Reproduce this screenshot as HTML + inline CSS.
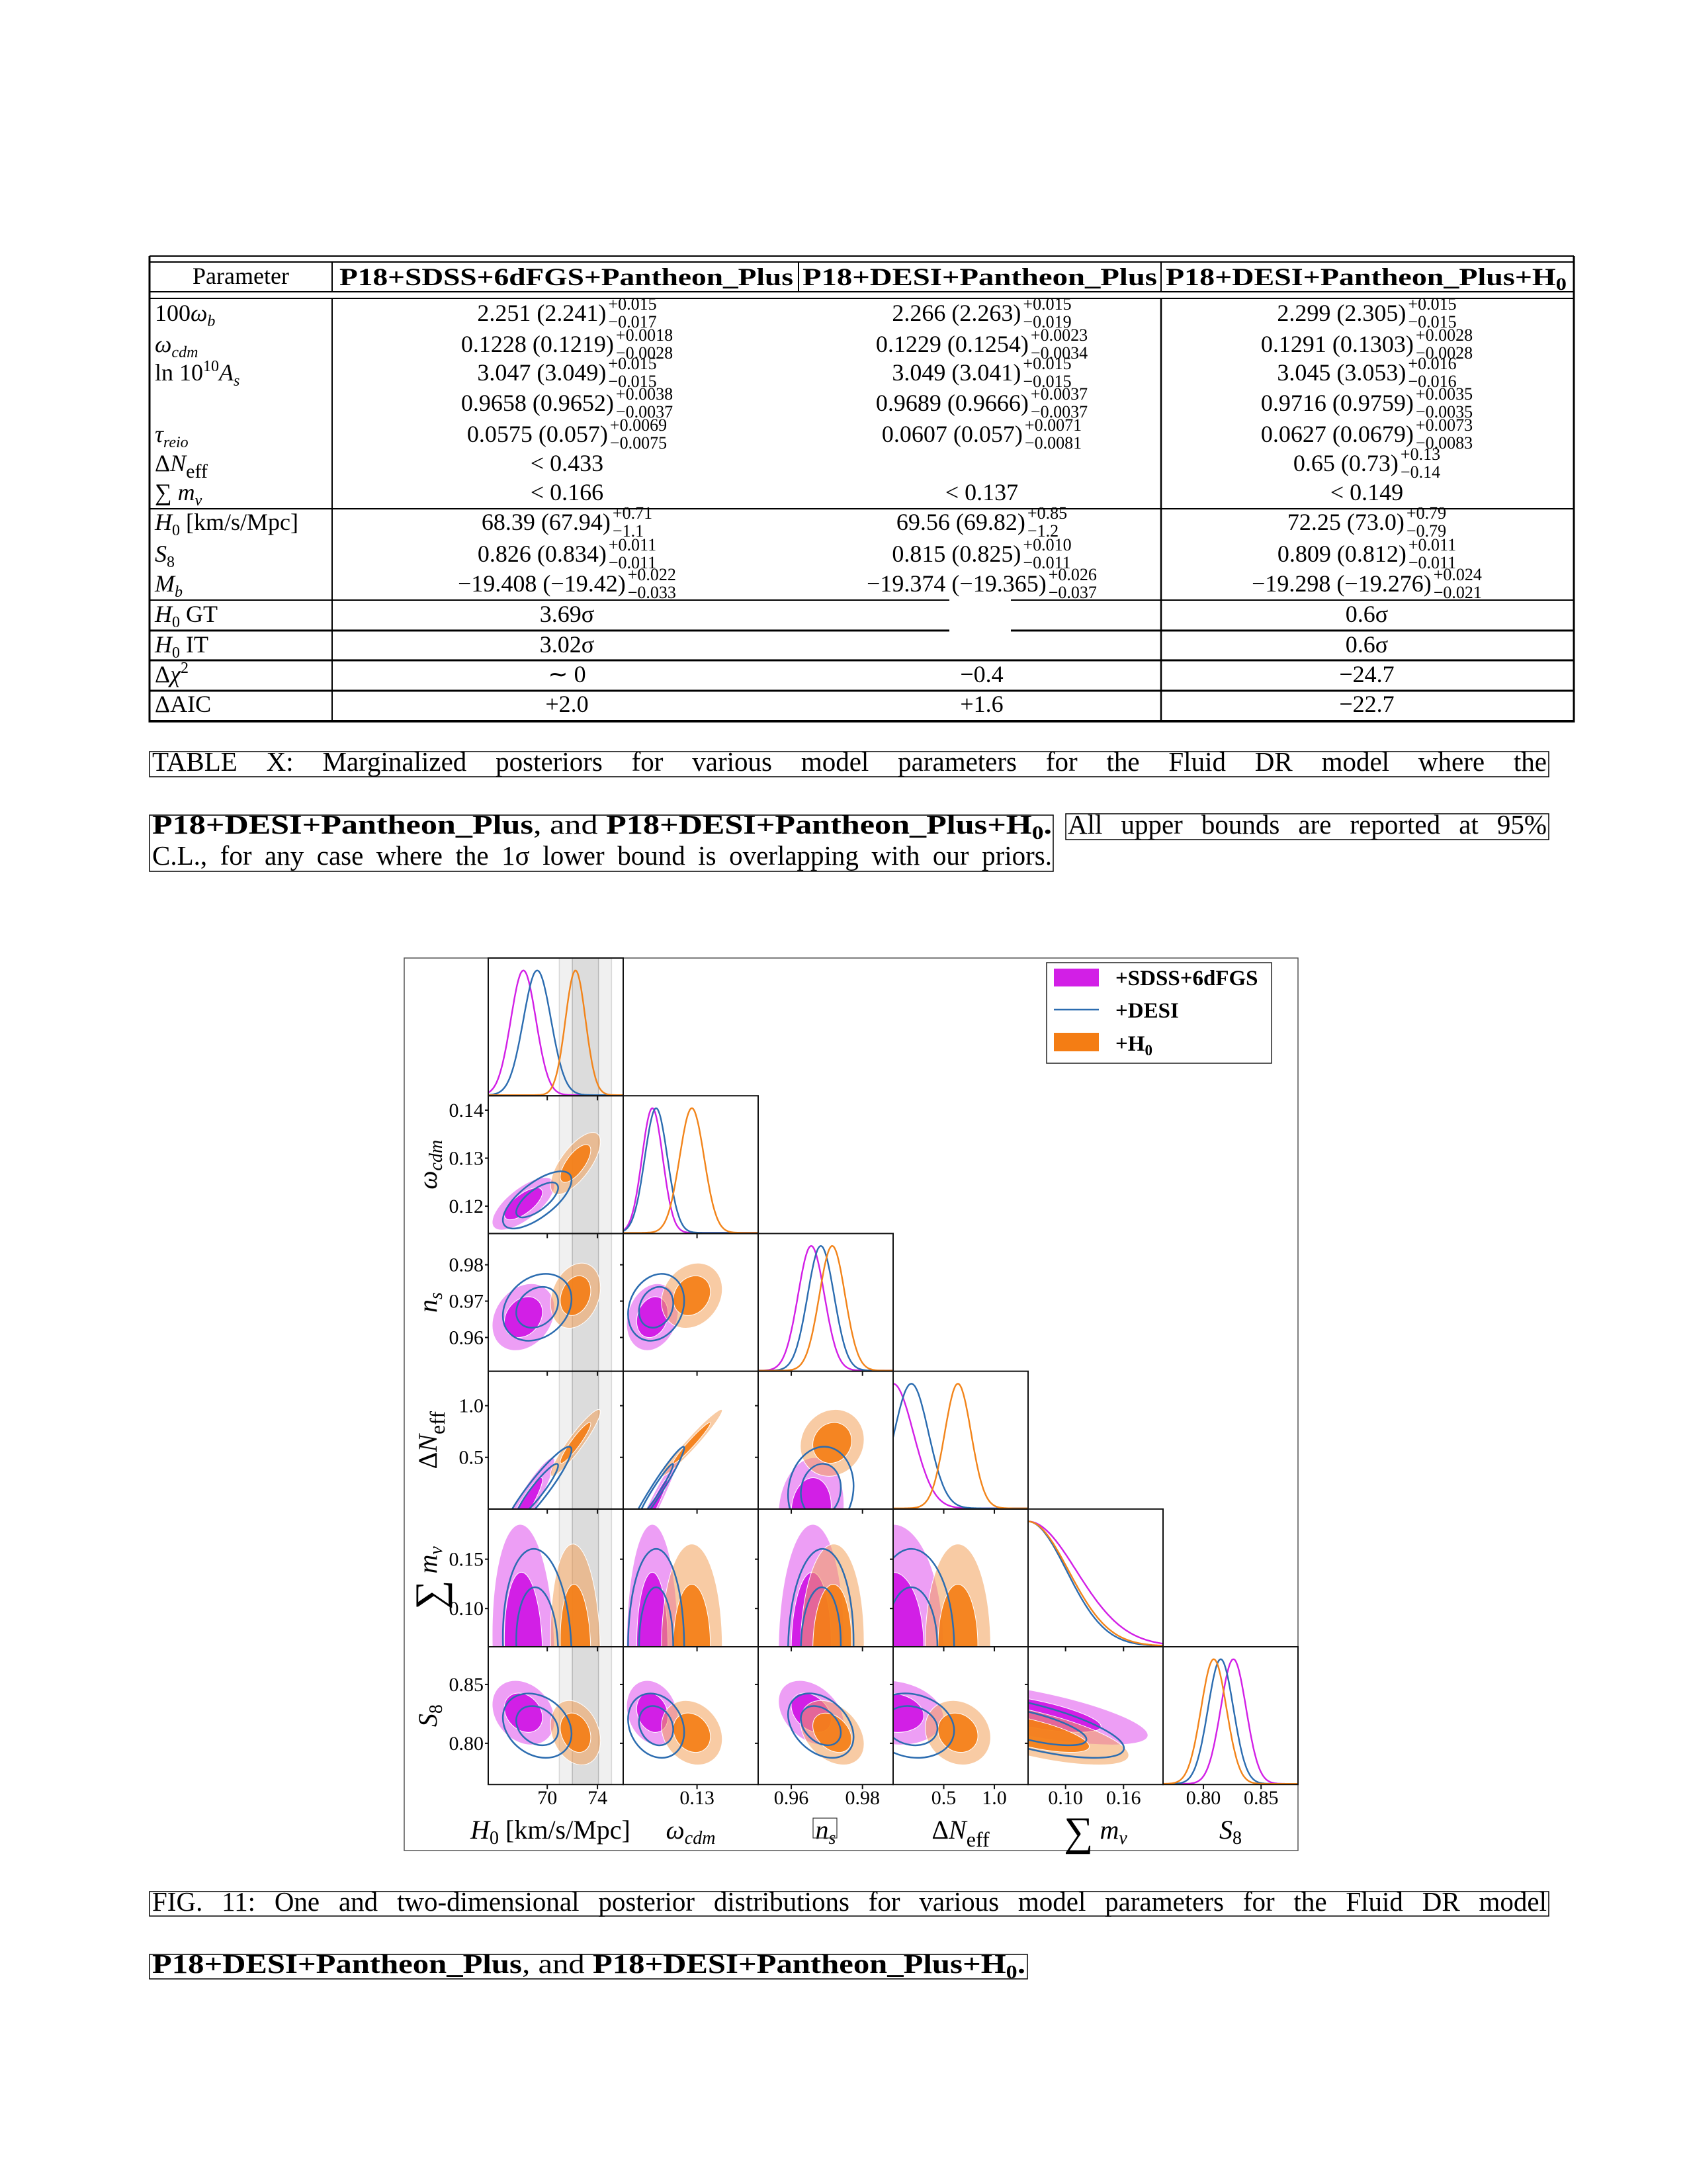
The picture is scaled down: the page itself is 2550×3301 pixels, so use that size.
<!DOCTYPE html>
<html><head><meta charset="utf-8"><title>Fluid DR posteriors</title>
<style>
html,body{margin:0;padding:0;background:#fff;}
svg{display:block;font-family:"Liberation Serif",serif;}
</style></head>
<body>
<svg id="page" xmlns="http://www.w3.org/2000/svg" width="2550" height="3301" viewBox="0 0 2550 3301">
<rect x="0" y="0" width="2550" height="3301" fill="#fff"/>
<g id="table"></g>
<g id="captions"></g>
<g id="chart"></g>
</svg>
<script>
// ---------- chart data ----------
const paramNames = ['H0','omega_cdm','n_s','Delta_Neff','sum_mnu','S8'];
const axMin = [65.3, 0.1143, 0.9507, 0.0, 0.0612, 0.765];
const axMax = [76.05, 0.1430, 0.9886, 1.333, 0.2009, 0.882];
const seriesNames = ['+SDSS+6dFGS', '+DESI', '+H0'];
const meanSDSS = [68.1, 0.1205, 0.9656, 0.0, 0.061, 0.826];
const sigSDSS  = [1.0, 0.0022, 0.0037, 0.20, 0.050, 0.011];
const meanDESI = [69.2, 0.1213, 0.9683, 0.18, 0.061, 0.815];
const sigDESI  = [1.1, 0.0024, 0.0037, 0.17, 0.040, 0.011];
const meanH0   = [72.25, 0.1289, 0.9715, 0.64, 0.061, 0.809];
const sigH0    = [0.8, 0.0026, 0.0036, 0.13, 0.042, 0.011];
const corrRow0 = [1, 0.70, 0.25, 0.93, -0.10, -0.25];
const corrRow1 = [0.70, 1, 0.20, 0.97, 0.0, -0.20];
const corrRow2 = [0.25, 0.20, 1, 0.10, 0.05, -0.35];
const corrRow3 = [0.93, 0.97, 0.10, 1, 0.0, -0.15];
const corrRow4 = [-0.10, 0.0, 0.05, 0.0, 1, -0.70];
const corrRow5 = [-0.25, -0.20, -0.35, -0.15, -0.70, 1];
const h0Ref = 73.04;
const h0RefSig = 1.04;
const xTickVals = [[70,74],[0.13],[0.96,0.98],[0.5,1.0],[0.10,0.16],[0.80,0.85]];
const xTickLabels = [['70','74'],['0.13'],['0.96','0.98'],['0.5','1.0'],['0.10','0.16'],['0.80','0.85']];
const yTickVals = [[],[0.12,0.13,0.14],[0.96,0.97,0.98],[0.5,1.0],[0.10,0.15],[0.80,0.85]];
const yTickLabels = [[],['0.12','0.13','0.14'],['0.96','0.97','0.98'],['0.5','1.0'],['0.10','0.15'],['0.80','0.85']];

// ---------- table data ----------
const rowCenters = [473,520,563,609,656,700,744,789,837,882,928,974,1019,1064];
const colSDSS = [["2.251 (2.241)","+0.015","−0.017"],["0.1228 (0.1219)","+0.0018","−0.0028"],["3.047 (3.049)","+0.015","−0.015"],["0.9658 (0.9652)","+0.0038","−0.0037"],["0.0575 (0.057)","+0.0069","−0.0075"],["< 0.433"],["< 0.166"],["68.39 (67.94)","+0.71","−1.1"],["0.826 (0.834)","+0.011","−0.011"],["−19.408 (−19.42)","+0.022","−0.033"],["3.69σ"],["3.02σ"],["∼ 0"],["+2.0"]];
const colDESI = [["2.266 (2.263)","+0.015","−0.019"],["0.1229 (0.1254)","+0.0023","−0.0034"],["3.049 (3.041)","+0.015","−0.015"],["0.9689 (0.9666)","+0.0037","−0.0037"],["0.0607 (0.057)","+0.0071","−0.0081"],[""],["< 0.137"],["69.56 (69.82)","+0.85","−1.2"],["0.815 (0.825)","+0.010","−0.011"],["−19.374 (−19.365)","+0.026","−0.037"],[""],[""],["−0.4"],["+1.6"]];
const colH0 = [["2.299 (2.305)","+0.015","−0.015"],["0.1291 (0.1303)","+0.0028","−0.0028"],["3.045 (3.053)","+0.016","−0.016"],["0.9716 (0.9759)","+0.0035","−0.0035"],["0.0627 (0.0679)","+0.0073","−0.0083"],["0.65 (0.73)","+0.13","−0.14"],["< 0.149"],["72.25 (73.0)","+0.79","−0.79"],["0.809 (0.812)","+0.011","−0.011"],["−19.298 (−19.276)","+0.024","−0.021"],["0.6σ"],["0.6σ"],["−24.7"],["−22.7"]];
const rowLabels = [
 '100<tspan font-style="italic">ω</tspan><tspan font-style="italic" font-size="24" dy="8">b</tspan>',
 '<tspan font-style="italic">ω</tspan><tspan font-style="italic" font-size="24" dy="8">cdm</tspan>',
 'ln 10<tspan font-size="24" dy="-14">10</tspan><tspan font-style="italic" dy="14">A</tspan><tspan font-style="italic" font-size="24" dy="8">s</tspan>',
 '',
 '<tspan font-style="italic">τ</tspan><tspan font-style="italic" font-size="24" dy="8">reio</tspan>',
 'Δ<tspan font-style="italic">N</tspan><tspan font-size="30" dy="10">eff</tspan>',
 '∑ <tspan font-style="italic">m</tspan><tspan font-style="italic" font-size="24" dy="8">ν</tspan>',
 '<tspan font-style="italic">H</tspan><tspan font-size="24" dy="8">0</tspan><tspan dy="-8"> [km/s/Mpc]</tspan>',
 '<tspan font-style="italic">S</tspan><tspan font-size="24" dy="8">8</tspan>',
 '<tspan font-style="italic">M</tspan><tspan font-style="italic" font-size="24" dy="8">b</tspan>',
 '<tspan font-style="italic">H</tspan><tspan font-size="24" dy="8">0</tspan><tspan dy="-8"> GT</tspan>',
 '<tspan font-style="italic">H</tspan><tspan font-size="24" dy="8">0</tspan><tspan dy="-8"> IT</tspan>',
 'Δ<tspan font-style="italic">χ</tspan><tspan font-size="24" dy="-14">2</tspan>',
 'ΔAIC'
];

const NS = 'http://www.w3.org/2000/svg';
function mk(tag, parent, attrs) {
  const el = document.createElementNS(NS, tag);
  for (const k in attrs) el.setAttribute(k, attrs[k]);
  parent.appendChild(el);
  return el;
}

// ---------- table ----------
const T = document.getElementById('table');
function hline(x1, x2, y, w, name) {
  const l = mk('line', T, {x1:x1, x2:x2, y1:y, y2:y, stroke:'#000', 'stroke-width':w});
  
  
}
function vline(x, y1, y2, w, name) {
  const l = mk('line', T, {x1:x, x2:x, y1:y1, y2:y2, stroke:'#000', 'stroke-width':w});
  
  
}
hline(226, 2379, 387, 2, 'table-top-rule');
hline(226, 2379, 396, 2, 'table-header-top-rule');
hline(226, 2379, 441, 2, 'table-header-bottom-rule');
hline(226, 2379, 451, 2, 'table-body-top-rule');
[226, 502, 1207, 1755, 2379].forEach(function (x) { vline(x, 396, 441, 2, 'header-column-divider'); });
vline(226, 387, 1092, 3, 'table-left-border');
vline(2379, 387, 1092, 3, 'table-right-border');
vline(502, 451, 1090, 2, 'table-column-divider');
vline(1755, 451, 1090, 2.5, 'table-column-divider');
hline(226, 2379, 769, 2, 'table-section-rule');
hline(226, 1435, 907, 2, 'table-section-rule');
hline(1528, 2379, 907, 2, 'table-section-rule');
hline(226, 1435, 953, 3, 'table-row-rule');
hline(1528, 2379, 953, 3, 'table-row-rule');
hline(226, 2379, 998, 3, 'table-row-rule');
hline(226, 2379, 1044, 3, 'table-row-rule');
hline(226, 2379, 1090, 4, 'table-bottom-rule');

const hp = mk('text', T, {x:364, y:429, 'font-size':36, 'text-anchor':'middle'});
hp.textContent = 'Parameter';


const h1 = mk('text', T, {x:856, y:431, 'font-size':37, 'font-weight':'bold', 'text-anchor':'middle', textLength:686, lengthAdjust:'spacingAndGlyphs'});
h1.textContent = 'P18+SDSS+6dFGS+Pantheon_Plus';


const h2 = mk('text', T, {x:1481, y:431, 'font-size':37, 'font-weight':'bold', 'text-anchor':'middle', textLength:536, lengthAdjust:'spacingAndGlyphs'});
h2.textContent = 'P18+DESI+Pantheon_Plus';


const h3 = mk('text', T, {x:1762, y:431, 'font-size':37, 'font-weight':'bold'});
h3.innerHTML = 'P18+DESI+Pantheon_Plus+H<tspan font-size="26" dy="7">0</tspan>';


(function(){ const w = h3.getComputedTextLength(); if (w > 0) { h3.setAttribute('transform', 'translate(1762,0) scale(' + (606 / w) + ',1) translate(-1762,0)'); } })();

rowLabels.forEach(function (lab, i) {
  const t = mk('text', T, {x:234, y:rowCenters[i] + 12, 'font-size':36});
  t.innerHTML = lab;
  
  
});

function putVal(cx, yc, v) {
  if (!v[0]) return;
  const g = mk('g', T, {});
  
  
  const m = mk('text', g, {x:0, y:yc + 12, 'font-size':36});
  m.textContent = v[0];
  const wm = m.getComputedTextLength();
  let ws = 0, sp = null, sb = null;
  if (v[1]) {
    sp = mk('text', g, {x:0, y:yc - 5, 'font-size':26});
    sp.textContent = v[1];
    sb = mk('text', g, {x:0, y:yc + 22, 'font-size':26});
    sb.textContent = v[2];
    ws = Math.max(sp.getComputedTextLength(), sb.getComputedTextLength()) + 3;
  }
  const x0 = cx - (wm + ws) / 2;
  m.setAttribute('x', x0);
  if (sp) { sp.setAttribute('x', x0 + wm + 3); sb.setAttribute('x', x0 + wm + 3); }
}
rowCenters.forEach(function (yc, i) {
  putVal(857, yc, colSDSS[i]);
  putVal(1484, yc, colDESI[i]);
  putVal(2066, yc, colH0[i]);
});

// ---------- captions ----------
const C = document.getElementById('captions');
function capBox(x1, y1, x2, y2) {
  const r = mk('rect', C, {x:x1, y:y1, width:x2 - x1, height:y2 - y1, fill:'none', stroke:'#000', 'stroke-width':1.5});
  
  
}
function seg(parent, s, size) {
  const t = mk('text', parent, {x:0, y:0, 'font-size':size});
  if (s.b) t.setAttribute('font-weight', 'bold');
  t.textContent = s.t;
  if (s.sub) { const ts = mk('tspan', t, {'font-size':size * 0.7, dy:8}); ts.textContent = s.sub; }
  return t;
}
function capLine(segs, x0, x1, y, size, justify, name) {
  const g = mk('g', C, {});
  
  
  const els = segs.map(function (s) { return seg(g, s, size); });
  const ws = els.map(function (e) { return e.getComputedTextLength(); });
  const W = ws.reduce(function (a, b) { return a + b; }, 0);
  if (justify && els.length > 1) {
    const gap = (x1 - x0 - W) / (els.length - 1);
    let x = x0;
    els.forEach(function (e, i) { e.setAttribute('x', x); e.setAttribute('y', y); x += ws[i] + gap; });
  } else {
    const s = W > 0 ? (x1 - x0) / W : 1;
    let x = x0;
    els.forEach(function (e, i) {
      e.setAttribute('x', x); e.setAttribute('y', y);
      e.setAttribute('transform', 'translate(' + x + ',0) scale(' + s + ',1) translate(' + (-x) + ',0)');
      x += ws[i] * s;
    });
  }
}
function words(str) { return str.split(' ').map(function (w) { return {t:w}; }); }
capBox(226, 1136, 2341, 1174);
capLine(words('TABLE X: Marginalized posteriors for various model parameters for the Fluid DR model where the'), 230, 2338, 1165, 41, true, 'table-caption-line-1');
capBox(226, 1232, 1592, 1317);
capLine([{t:'P18+DESI+Pantheon_Plus', b:1}, {t:', and\u00a0'}, {t:'P18+DESI+Pantheon_Plus+H', b:1, sub:'0'}, {t:'.', b:1}], 230, 1590, 1260, 41, false, 'table-caption-line-2');
capBox(1611, 1230, 2341, 1269);
capLine(words('All upper bounds are reported at 95%'), 1614, 2338, 1260, 41, true, 'table-caption-upper-bounds');
capLine(words('C.L., for any case where the 1σ lower bound is overlapping with our priors.'), 230, 1590, 1307, 41, true, 'table-caption-line-3');
capBox(226, 2859, 2341, 2896);
capLine(words('FIG. 11: One and two-dimensional posterior distributions for various model parameters for the Fluid DR model'), 230, 2338, 2888, 41, true, 'figure-caption-line-1');
capBox(226, 2954, 1553, 2991);
capLine([{t:'P18+DESI+Pantheon_Plus', b:1}, {t:', and\u00a0'}, {t:'P18+DESI+Pantheon_Plus+H', b:1, sub:'0'}, {t:'.', b:1}], 230, 1550, 2982, 41, false, 'figure-caption-line-2');

// ---------- chart ----------
const G = document.getElementById('chart');
const X0 = 738, Y0 = 1448, CW = 204, CH = 208.2;
const corr = [corrRow0, corrRow1, corrRow2, corrRow3, corrRow4, corrRow5];
const series = [
  {mean: meanSDSS, sig: sigSDSS, line:'#d21fe6', outer:'rgba(214,40,232,0.45)', inner:'#d21fe6', fill:true},
  {mean: meanDESI, sig: sigDESI, line:'#2b6cb0', fill:false},
  {mean: meanH0, sig: sigH0, line:'#f2841a', outer:'rgba(243,160,90,0.55)', inner:'rgba(244,125,20,0.9)', fill:true}
];
function xs(c, v) { return X0 + c * CW + (v - axMin[c]) / (axMax[c] - axMin[c]) * CW; }
function ys(r, v) { return Y0 + (r + 1) * CH - (v - axMin[r]) / (axMax[r] - axMin[r]) * CH; }

const frame = mk('rect', G, {x:611, y:1448, width:1351, height:1349, fill:'none', stroke:'#555', 'stroke-width':1.5});



const defs = mk('defs', G, {});
for (let r = 0; r < 6; r++) for (let c = 0; c <= r; c++) {
  const cp = mk('clipPath', defs, {id:'clip' + r + '_' + c});
  mk('rect', cp, {x:X0 + c * CW, y:Y0 + r * CH, width:CW, height:CH});
}

// H0 reference band (column 0)
const bandLight = mk('rect', G, {x:xs(0, h0Ref - 2 * h0RefSig), y:Y0, width:xs(0, h0Ref + 2 * h0RefSig) - xs(0, h0Ref - 2 * h0RefSig), height:6 * CH, fill:'#f0f0f0', stroke:'#d8d8d8', 'stroke-width':1.5});


const bandDark = mk('rect', G, {x:xs(0, h0Ref - h0RefSig), y:Y0, width:xs(0, h0Ref + h0RefSig) - xs(0, h0Ref - h0RefSig), height:6 * CH, fill:'#dcdcdc', stroke:'#b8b8b8', 'stroke-width':1.5});



function ellipseAttrs(r, c, s, k) {
  const mx = xs(c, s.mean[c]), my = ys(r, s.mean[r]);
  const sx = s.sig[c] / (axMax[c] - axMin[c]) * CW;
  const sy = s.sig[r] / (axMax[r] - axMin[r]) * CH;
  const rho = -corr[r][c];
  const a = sx * sx, cc = sy * sy, b = rho * sx * sy;
  const tr = (a + cc) / 2, d = Math.sqrt(((a - cc) / 2) * ((a - cc) / 2) + b * b);
  const l1 = tr + d, l2 = Math.max(tr - d, 0.01);
  const th = 0.5 * Math.atan2(2 * b, a - cc) * 180 / Math.PI;
  return {cx:mx, cy:my, rx:k * Math.sqrt(l1), ry:k * Math.sqrt(l2), transform:'rotate(' + th + ' ' + mx + ' ' + my + ')'};
}

// 2D contours
for (let r = 1; r < 6; r++) for (let c = 0; c < r; c++) {
  const pg = mk('g', G, {'clip-path':'url(#clip' + r + '_' + c + ')'});
  
  
  [0, 2].forEach(function (si) {
    const s = series[si];
    const o = mk('ellipse', pg, Object.assign(ellipseAttrs(r, c, s, 2.486), {fill:s.outer, stroke:'#fff', 'stroke-width':1}));
    
    
    const i = mk('ellipse', pg, Object.assign(ellipseAttrs(r, c, s, 1.515), {fill:s.inner, stroke:'#fff', 'stroke-width':1}));
    
    
  });
  const sd = series[1];
  const o2 = mk('ellipse', pg, Object.assign(ellipseAttrs(r, c, sd, 2.486), {fill:'none', stroke:sd.line, 'stroke-width':2.5}));
  
  
  const i2 = mk('ellipse', pg, Object.assign(ellipseAttrs(r, c, sd, 1.515), {fill:'none', stroke:sd.line, 'stroke-width':2.5}));
  
  
}

// 1D marginals
for (let d = 0; d < 6; d++) {
  const pg = mk('g', G, {'clip-path':'url(#clip' + d + '_' + d + ')'});
  
  
  series.forEach(function (s, si) {
    let pts = [];
    for (let k = 0; k <= 160; k++) {
      const v = axMin[d] + (axMax[d] - axMin[d]) * k / 160;
      const z = (v - s.mean[d]) / s.sig[d];
      const f = Math.exp(-0.5 * z * z);
      pts.push(xs(d, v).toFixed(1) + ',' + (Y0 + (d + 1) * CH - 1 - f * CH * 0.905).toFixed(1));
    }
    const pl = mk('polyline', pg, {points:pts.join(' '), fill:'none', stroke:s.line, 'stroke-width':2.4});
    
    
  });
}

// panel frames & ticks
for (let r = 0; r < 6; r++) for (let c = 0; c <= r; c++) {
  const fr = mk('rect', G, {x:X0 + c * CW, y:Y0 + r * CH, width:CW, height:CH, fill:'none', stroke:'#111', 'stroke-width':2});
  
  
  xTickVals[c].forEach(function (v) {
    const x = xs(c, v);
    const tk = mk('line', G, {x1:x, x2:x, y1:Y0 + (r + 1) * CH, y2:Y0 + (r + 1) * CH + 7, stroke:'#111', 'stroke-width':2});
    
    
  });
  if (r !== c) {
    yTickVals[r].forEach(function (v) {
      const y = ys(r, v);
      const tk = mk('line', G, {x1:X0 + c * CW - 5, x2:X0 + c * CW, y1:y, y2:y, stroke:'#111', 'stroke-width':2});
      
      
    });
  }
}
// tick labels
for (let c = 0; c < 6; c++) {
  xTickVals[c].forEach(function (v, i) {
    const t = mk('text', G, {x:xs(c, v), y:2727, 'font-size':30, 'text-anchor':'middle'});
    t.textContent = xTickLabels[c][i];
    
    
  });
}
for (let r = 1; r < 6; r++) {
  yTickVals[r].forEach(function (v, i) {
    const t = mk('text', G, {x:731, y:ys(r, v) + 10, 'font-size':30, 'text-anchor':'end'});
    t.textContent = yTickLabels[r][i];
    
    
  });
}
// axis titles (bottom)
const xTitles = [
  '<tspan font-style="italic">H</tspan><tspan font-size="28" dy="8">0</tspan><tspan dy="-8"> [km/s/Mpc]</tspan>',
  '<tspan font-style="italic">ω</tspan><tspan font-style="italic" font-size="28" dy="8">cdm</tspan>',
  '<tspan font-style="italic">n</tspan><tspan font-style="italic" font-size="28" dy="8">s</tspan>',
  'Δ<tspan font-style="italic">N</tspan><tspan font-size="32" dy="12">eff</tspan>',
  '<tspan font-size="62" dy="10">∑</tspan><tspan font-style="italic" dy="-10"> m</tspan><tspan font-style="italic" font-size="28" dy="8">ν</tspan>',
  '<tspan font-style="italic">S</tspan><tspan font-size="28" dy="8">8</tspan>'
];
xTitles.forEach(function (h, c) {
  const t = mk('text', G, {x:X0 + c * CW + CW / 2 + (c === 0 ? -8 : 0), y:2779, 'font-size':40, 'text-anchor':'middle'});
  t.innerHTML = h;
  
  
});
const nsBox = mk('rect', G, {x:1229, y:2748, width:36, height:30, fill:'none', stroke:'#333', 'stroke-width':1.2});


// axis titles (left, rotated)
const yTitles = [null,
  '<tspan font-style="italic">ω</tspan><tspan font-style="italic" font-size="28" dy="8">cdm</tspan>',
  '<tspan font-style="italic">n</tspan><tspan font-style="italic" font-size="28" dy="8">s</tspan>',
  'Δ<tspan font-style="italic">N</tspan><tspan font-size="32" dy="12">eff</tspan>',
  '<tspan font-size="62" dy="10">∑</tspan><tspan font-style="italic" dy="-10"> m</tspan><tspan font-style="italic" font-size="28" dy="8">ν</tspan>',
  '<tspan font-style="italic">S</tspan><tspan font-size="28" dy="8">8</tspan>'
];
for (let r = 1; r < 6; r++) {
  const cy = Y0 + r * CH + CH / 2;
  const t = mk('text', G, {x:660, y:cy, 'font-size':40, 'text-anchor':'middle', transform:'rotate(-90 660 ' + cy + ')'});
  t.innerHTML = yTitles[r];
  
  
}

// legend
const L = mk('g', G, {});


const lb = mk('rect', L, {x:1582, y:1455, width:340, height:152, fill:'#fff', stroke:'#222', 'stroke-width':1.5});


const lp1 = mk('rect', L, {x:1593, y:1464, width:68, height:27, fill:'#d21fe6'});


const lp2 = mk('line', L, {x1:1593, x2:1661, y1:1526, y2:1526, stroke:'#2b6cb0', 'stroke-width':2.5});


const lp3 = mk('rect', L, {x:1593, y:1561, width:68, height:28, fill:'#f47d14'});


const lt1 = mk('text', L, {x:1686, y:1489, 'font-size':33, 'font-weight':'bold'});
lt1.textContent = '+SDSS+6dFGS';


const lt2 = mk('text', L, {x:1686, y:1538, 'font-size':33, 'font-weight':'bold'});
lt2.textContent = '+DESI';


const lt3 = mk('text', L, {x:1686, y:1588, 'font-size':33, 'font-weight':'bold'});
lt3.innerHTML = '+H<tspan font-size="23" dy="7">0</tspan>';


</script>
</body></html>
